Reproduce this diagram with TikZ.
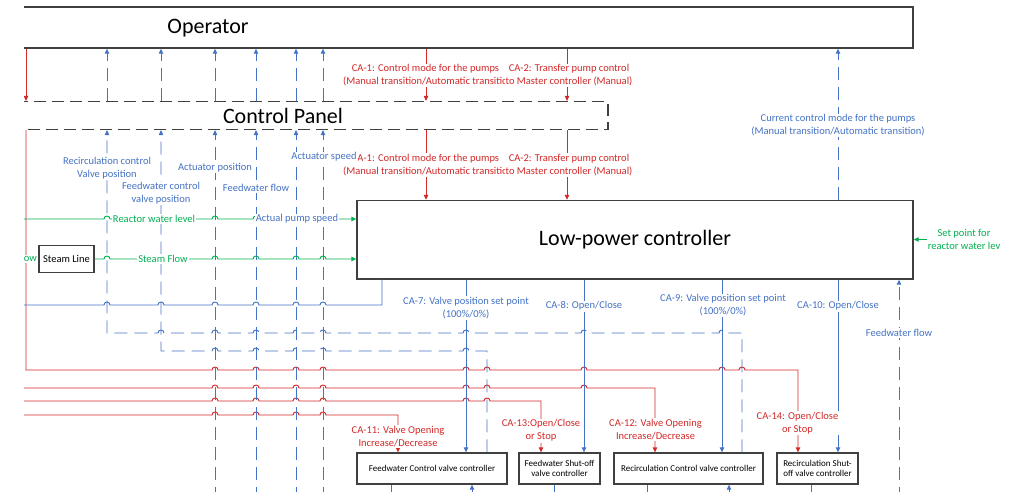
\documentclass[tikz,border=0pt]{standalone}
\usepackage{fontspec}
\setmainfont{Carlito}
\usetikzlibrary{arrows.meta}

\definecolor{actred}{RGB}{210,40,40}
\definecolor{sigblue}{RGB}{68,114,196}
\definecolor{measgreen}{RGB}{0,176,80}
\definecolor{boxgray}{RGB}{64,64,64}

% small jumps where a horizontal line crosses a vertical one
\newcommand{\hopsright}[2]{foreach \xc in {#2} {-- (\xc-3,#1) .. controls +(0,-4) and +(0,-4) .. (\xc+3,#1)}}
\newcommand{\hopsleft}[2]{foreach \xc in {#2} {-- (\xc+3,#1) .. controls +(0,-4) and +(0,-4) .. (\xc-3,#1)}}

\begin{document}
\begin{tikzpicture}[x=1pt, y=-1pt, >={Triangle[length=5pt,width=4.5pt]},
  box/.style={draw=boxgray, line width=1.4pt, inner sep=0pt},
  panel/.style={draw=boxgray, line width=1.2pt, dash pattern=on 12pt off 6pt},
  ctl/.style={draw=boxgray, line width=1.3pt, inner sep=0pt, align=center, font=\fontsize{9}{10.5}\selectfont},
  act/.style={draw=actred, line width=0.95pt},
  sig/.style={draw=sigblue, line width=0.95pt},
  fb/.style={sig, dash pattern=on 13pt off 7pt},
  meas/.style={draw=measgreen, line width=0.95pt},
  lbl/.style={fill=white, inner sep=1pt, align=center, font=\fontsize{10.5}{13}\selectfont},
  rlbl/.style={lbl, text=actred},
  blbl/.style={lbl, text=sigblue},
  glbl/.style={lbl, text=measgreen},
  big/.style={font=\fontsize{22}{26}\selectfont}]

 \useasboundingbox (0,0) rectangle (1011,491);
 \clip (24,0) rectangle (1011,491);

 \node [box, minimum width=903pt, minimum height=41pt] (opr) at (461.5,27.5) {};
 \node [big] (oprname) at (208,28) {Operator};
 \node [panel, minimum width=598pt, minimum height=28pt] (cp) at (309,115.5) {};
 \node [big] (cpname) at (283,116) {Control Panel};
 \node [box, big, minimum width=556pt, minimum height=78.5pt] (lpc) at (635,239.75) {Low-power controller};
 \node [box, font=\fontsize{10.5}{13}\selectfont, minimum width=55pt, minimum height=27pt] (stl) at (66.5,259) {Steam Line};

 \node [ctl, minimum width=150pt, minimum height=31pt] (fwc) at (432,468.5) {Feedwater Control valve controller};
 \node [ctl, minimum width=81pt, minimum height=31pt] (fws) at (559.5,468.5) {Feedwater Shut-off\\valve controller};
 \node [ctl, minimum width=149pt, minimum height=31pt] (rcc) at (688.5,468.5) {Recirculation Control valve controller};
 \node [ctl, minimum width=81pt, minimum height=31pt] (rcs) at (817.5,468.5) {Recirculation Shut-\\off valve controller};

 \coordinate (lvl) at (15,219);
 \coordinate (pos) at (15,305);
 \coordinate (cmd12) at (15,388);
 \coordinate (cmd13) at (15,401);
 \coordinate (cmd11) at (15,415);
 \coordinate (sens1) at (215,500);
 \coordinate (sens2) at (256,500);
 \coordinate (sens3) at (296,500);
 \coordinate (sens4) at (323,500);
 \coordinate (ffr) at (899,500);
 \coordinate (out1) at (391,500);
 \coordinate (in1) at (472,500);
 \coordinate (out2) at (554,500);
 \coordinate (out3) at (647,500);
 \coordinate (in3) at (729,500);
 \coordinate (out4) at (811,500);

 % operator commands
 \draw [act,->] (26,0 |- opr.south) -- (26,0 |- cp.north);
 \draw [act,->] (426,0 |- opr.south) -- (426,0 |- cp.north);
 \draw [act,->] (567,0 |- opr.south) -- (567,0 |- cp.north);
 \draw [act,->] (426,0 |- cp.south) -- (426,0 |- lpc.north);
 \draw [act,->] (567,0 |- cp.south) -- (567,0 |- lpc.north);

 \draw [act,->] (26,0 |- cp.south) -- (26,370) \hopsright{370}{215,256,296,323,466,487,584,722,742} -- (798,370) -- (798,0 |- rcs.north);
 \draw [act,->] (cmd12) \hopsright{388}{215,256,296,323,466,487,584} -- (655,388) -- (655,0 |- rcc.north);
 \draw [act,->] (cmd13) \hopsright{401}{215,256,296,323,466,487} -- (541,401) -- (541,0 |- fws.north);
 \draw [act,->] (cmd11) \hopsright{415}{215,256,296,323} -- (398,415) -- (398,0 |- fwc.north);

 % controller outputs
 \draw [sig,->] (466,0 |- lpc.south) -- (466,0 |- fwc.north);
 \draw [sig,->] (584,0 |- lpc.south) -- (584,0 |- fws.north);
 \draw [sig,->] (722,0 |- lpc.south) -- (722,0 |- rcc.north);
 \draw [sig,->] (838,0 |- lpc.south) -- (838,0 |- rcs.north);
 \draw [sig] (382,0 |- lpc.south) -- (382,305) \hopsleft{305}{323,296,256,215,161,107} -- (pos);

 % feedback to the panel
 \draw [fb,->] (742,0 |- rcc.north) -- (742,333) \hopsleft{333}{722,584,466,323,296,256,215,161} -- (107,333) -- (107,0 |- cp.south);
 \draw [fb,->] (487,0 |- fwc.north) -- (487,351) \hopsleft{351}{466,323,296,256,215} -- (161,351) -- (161,0 |- cp.south);
 \draw [fb,->] (sens1) -- (sens1 |- cp.south);
 \draw [fb,->] (sens2) -- (sens2 |- cp.south);
 \draw [fb,->] (sens3) -- (sens3 |- cp.south);
 \draw [fb,->] (sens4) -- (sens4 |- cp.south);
 \draw [fb,->] (ffr) -- (ffr |- lpc.south);
 \draw [fb,->] (838,0 |- lpc.north) -- (838,0 |- opr.south);

 \draw [fb,->] (107,0 |- cp.north) -- (107,0 |- opr.south);
 \draw [fb,->] (161,0 |- cp.north) -- (161,0 |- opr.south);
 \draw [fb,->] (215,0 |- cp.north) -- (215,0 |- opr.south);
 \draw [fb,->] (256,0 |- cp.north) -- (256,0 |- opr.south);
 \draw [fb,->] (296,0 |- cp.north) -- (296,0 |- opr.south);
 \draw [fb,->] (323,0 |- cp.north) -- (323,0 |- opr.south);

 % below the valve controllers
 \draw [sig] (out1 |- fwc.south) -- (out1);
 \draw [sig,->] (in1) -- (in1 |- fwc.south);
 \draw [sig] (out2 |- fws.south) -- (out2);
 \draw [sig] (out3 |- rcc.south) -- (out3);
 \draw [sig,->] (in3) -- (in3 |- rcc.south);
 \draw [sig] (out4 |- rcs.south) -- (out4);

 % measurements
 \node [glbl] (spl) at (964,239.5) {Set point for\\reactor water lev};
 \draw [meas,->] (spl.west) -- (spl.west -| lpc.east);
 \draw [meas,->] (lvl) \hopsright{219}{107,161,215,256,296,323} -- (lpc.west |- 0,219);
 \draw [meas,->] (stl.east) \hopsright{259}{107,161,215,256,296,323} -- (lpc.west |- 0,259);

 \node [glbl] (lvltxt) at (154,219) {Reactor water level};
 \node [glbl] (flowtxt) at (163,259) {Steam Flow};
 \node [glbl, anchor=east] (flowin) at (38,259) {ow};

 \node [rlbl] (ca1up) at (425.5,75.5) {CA-1: Control mode for the pumps\\(Manual transition/Automatic transitio};
 \node [rlbl] (ca2up) at (569,75.5) {CA-2: Transfer pump control\\to Master controller (Manual)};
 \node [rlbl] (ca1) at (425.5,165) {CA-1: Control mode for the pumps\\(Manual transition/Automatic transitio};
 \node [rlbl] (ca2) at (569,165) {CA-2: Transfer pump control\\to Master controller (Manual)};
 \node [rlbl] (ca11) at (398,436.5) {CA-11: Valve Opening\\Increase/Decrease};
 \node [rlbl] (ca13) at (541,430.5) {CA-13:Open/Close\\or Stop};
 \node [rlbl] (ca12) at (655.5,429.5) {CA-12: Valve Opening\\Increase/Decrease};
 \node [rlbl] (ca14) at (797.5,423) {CA-14: Open/Close\\or Stop};

 \node [blbl] (rcvp) at (107,168.5) {Recirculation control\\Valve position};
 \node [blbl] (fcvp) at (161,193.5) {Feedwater control\\valve position};
 \node [blbl] (actpos) at (215,168) {Actuator position};
 \node [blbl] (fwflow) at (256,188) {Feedwater flow};
 \node [blbl] (pumpspd) at (297,219) {Actual pump speed};
 \node [blbl] (actspd) at (324,157) {Actuator speed};
 \node [blbl] (curmode) at (838,125.5) {Current control mode for the pumps\\(Manual transition/Automatic transition)};
 \node [blbl] (ca7) at (466,308) {CA-7: Valve position set point\\(100\%/0\%)};
 \node [blbl] (ca8) at (584,306) {CA-8: Open/Close};
 \node [blbl] (ca9) at (723,305.5) {CA-9: Valve position set point\\(100\%/0\%)};
 \node [blbl] (ca10) at (838,306) {CA-10: Open/Close};
 \node [blbl] (fwflow2) at (899,333) {Feedwater flow};

\end{tikzpicture}
\end{document}
